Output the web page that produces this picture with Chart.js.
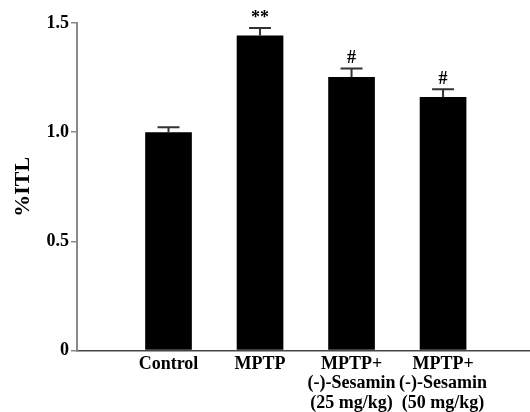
<!DOCTYPE html>
<html>
<head>
<meta charset="utf-8">
<script src="https://cdn.jsdelivr.net/npm/chart.js@4/dist/chart.umd.min.js"></script>
<style>
    html, body { margin: 0; padding: 0; background: #fff; }
    #wrap { width: 530px; height: 412px; }
</style>
</head>
<body>
<div id="wrap"><canvas id="chart" width="530" height="412"></canvas></div>
<script>
// values
const categories = ['Control', 'MPTP', ['MPTP+', '(-)-Sesamin', '(25 mg/kg)'], ['MPTP+', '(-)-Sesamin', '(50 mg/kg)']];
const itl = [1.00, 1.443, 1.253, 1.161];
const sem = [0.022, 0.034, 0.039, 0.035];
const marks = ['', '**', '#', '#'];
const yTickLabels = ['0', '0.5', '1.0', '1.5'];

const serif = 'Liberation Serif, Times New Roman, serif';

// error bars + significance marks on top of the bars
const errorBars = {
    id: 'errorBars',
    afterDatasetsDraw(chart) {
        const ctx = chart.ctx;
        const xs = chart.scales.x;
        const ys = chart.scales.y;
        ctx.save();
        ctx.strokeStyle = '#333';
        ctx.lineWidth = 2;
        itl.forEach((v, i) => {
            const x = xs.getPixelForValue(i);
            const y0 = ys.getPixelForValue(v);
            const y1 = ys.getPixelForValue(v + sem[i]);
            ctx.beginPath();
            ctx.moveTo(x, y0);
            ctx.lineTo(x, y1);
            ctx.moveTo(x - 11, y1);
            ctx.lineTo(x + 11, y1);
            ctx.stroke();
            if (marks[i]) {
                ctx.fillStyle = '#000';
                ctx.font = `bold 18px ${serif}`;
                ctx.textAlign = 'center';
                ctx.textBaseline = 'alphabetic';
                ctx.fillText(marks[i], x, y1 - 5);
            }
        });
        ctx.restore();
    }
};

const ctx = document.getElementById('chart').getContext('2d');
new Chart(ctx, {
    type: 'bar',
    data: {
        datasets: [{
            data: itl.map((v, i) => ({ x: i, y: v })),
            backgroundColor: '#000',
            borderColor: '#000',
            borderWidth: 0,
            barPercentage: 0.51,
            categoryPercentage: 1
        }]
    },
    options: {
        responsive: false,
        animation: false,
        layout: { padding: { left: 0, right: 0, top: 23, bottom: 0 } },
        plugins: {
            legend: { display: false },
            tooltip: { enabled: false }
        },
        scales: {
            x: {
                type: 'linear',
                min: -1,
                max: 3.95,
                offset: false,
                afterBuildTicks(scale) {
                    scale.ticks = categories.map((c, i) => ({ value: i }));
                },
                afterFit(scale) { scale.height = 61.5; },
                grid: { display: false, drawTicks: false, tickLength: 0 },
                border: { display: true, color: '#444', width: 1.5 },
                ticks: {
                    autoSkip: false,
                    maxRotation: 0,
                    padding: 4,
                    color: '#000',
                    font: { family: serif, size: 18, weight: 'bold', lineHeight: 1.08 },
                    callback: (v) => categories[v]
                }
            },
            y: {
                min: 0,
                max: 1.5,
                afterFit(scale) { scale.width = 77; },
                grid: {
                    display: true,
                    drawOnChartArea: false,
                    drawTicks: true,
                    tickLength: 6,
                    color: '#888',
                    lineWidth: 1.5
                },
                border: { display: true, color: '#888', width: 2 },
                ticks: {
                    stepSize: 0.5,
                    padding: 2,
                    color: '#000',
                    font: { family: serif, size: 18, weight: 'bold' },
                    callback: (v, i) => yTickLabels[i]
                },
                title: {
                    display: true,
                    text: '%ITL',
                    color: '#000',
                    font: { family: serif, size: 22, weight: 'bold' },
                    padding: { top: 10, bottom: 0 }
                }
            }
        }
    },
    plugins: [errorBars]
});
</script>
</body>
</html>
